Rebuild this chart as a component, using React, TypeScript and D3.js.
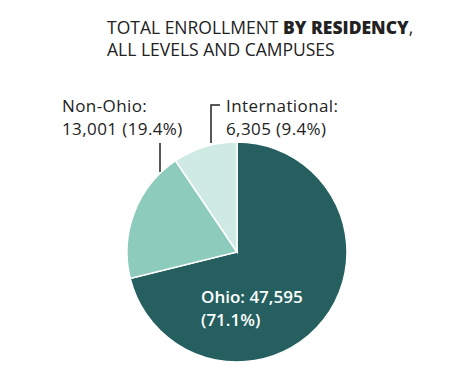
import React from "react";
import * as d3 from "d3";

const categories = ["Ohio", "Non-Ohio", "International"];
const values = [47595, 13001, 6305];
const percents = ["71.1%", "19.4%", "9.4%"];
const colors = ["#255f60", "#8dcbbc", "#cfe9e3"];

export default function App() {
  const W = 474, H = 374;
  const cx = 237, cy = 252, r = 110;
  const pie = d3.pie<number>().sort(null).value((d) => d)(values);
  const arc = d3.arc<d3.PieArcDatum<number>>().innerRadius(0).outerRadius(r);
  const fmt = d3.format(",");
  const font = "'Open Sans', sans-serif";
  return (
    <svg width={W} height={H} style={{ position: "absolute", left: 0, top: 0, background: "#fff" }}>
      <text x={107} y={34} fontFamily={font} fontSize={17.5} fill="#222">
        TOTAL ENROLLMENT <tspan fontWeight={800}>BY RESIDENCY</tspan>,
      </text>
      <text x={107} y={56} fontFamily={font} fontSize={17.5} fill="#222">
        ALL LEVELS AND CAMPUSES
      </text>
      <g transform={`translate(${cx},${cy})`}>
        {pie.map((d, i) => (
          <path key={categories[i]} d={arc(d) || ""} fill={colors[i]} stroke="#fff" strokeWidth={1.5} />
        ))}
      </g>
      <line x1={160} y1={143} x2={160} y2={172} stroke="#222" strokeWidth={1.5} />
      <polyline points="220,105 211,105 211,143" fill="none" stroke="#222" strokeWidth={1.5} />
      <text fontFamily={font} fontSize={17} letterSpacing={0.4} fill="#222">
        <tspan x={62} y={112}>{categories[1]}:</tspan>
        <tspan x={62} y={135}>{fmt(values[1])} ({percents[1]})</tspan>
      </text>
      <text fontFamily={font} fontSize={17} letterSpacing={0.4} fill="#222">
        <tspan x={226} y={112}>{categories[2]}:</tspan>
        <tspan x={226} y={135}>{fmt(values[2])} ({percents[2]})</tspan>
      </text>
      <text fontFamily={font} fontSize={17} fill="#fff" fontWeight={600}>
        <tspan x={201} y={303}>{categories[0]}: {fmt(values[0])}</tspan>
        <tspan x={201} y={326}>({percents[0]})</tspan>
      </text>
    </svg>
  );
}
